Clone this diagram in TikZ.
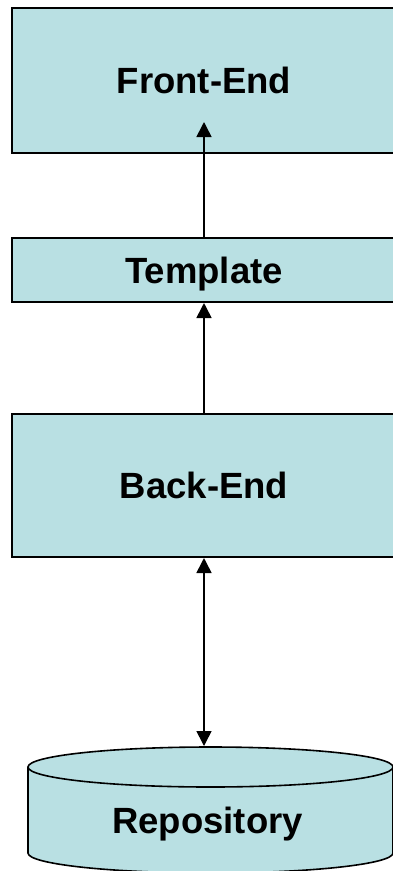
\documentclass[tikz,border=0pt]{standalone}
\usepackage{fontspec}
\setmainfont{Liberation Sans}
\usetikzlibrary{arrows.meta}
\definecolor{boxfill}{RGB}{185,224,227}
\tikzset{
  lbl/.style={font=\fontsize{36.5}{44}\selectfont\bfseries, text height=26.2pt, text depth=0pt},
  blk/.style={lbl, draw=black, line width=2pt, fill=boxfill, minimum width=384pt, inner sep=0pt},
  conn/.style={line width=1.6pt, -{Triangle[length=15pt,width=15pt]}},
  dconn/.style={line width=1.6pt, {Triangle[length=15pt,width=15pt]}-{Triangle[length=15pt,width=15pt]}}
}
\begin{document}
\begin{tikzpicture}[x=1pt,y=-1pt]
\useasboundingbox (0,0) rectangle (393,871);
\clip (0,0) rectangle (393,871);
\node[blk, minimum height=145pt] (fe) at (204,80.5) {Front-End};
\node[blk, minimum height=64pt] (tpl) at (204,270) {Template};
\node[blk, minimum height=143pt] (be) at (204,485.5) {Back-End};
% repository cylinder
\fill[boxfill] (28,767) -- (28,853) arc[start angle=180,end angle=0,x radius=182.5,y radius=20] -- (393,767) -- cycle;
\draw[line width=1.6pt] (28,767) -- (28,853) arc[start angle=180,end angle=0,x radius=182.5,y radius=20] -- (393,767);
\draw[line width=1.6pt, fill=boxfill] (210.5,767) ellipse[x radius=182.5, y radius=20];
\node[lbl, inner sep=0pt] (repo) at (207.5,820) {Repository};
\coordinate (repotop) at (204,746);
\coordinate (fetip) at (204,122);
\draw[conn] (tpl.north) -- (fetip);
\draw[conn] (be.north) -- (tpl.south);
\draw[dconn] (be.south) -- (repotop);
\end{tikzpicture}
\end{document}
